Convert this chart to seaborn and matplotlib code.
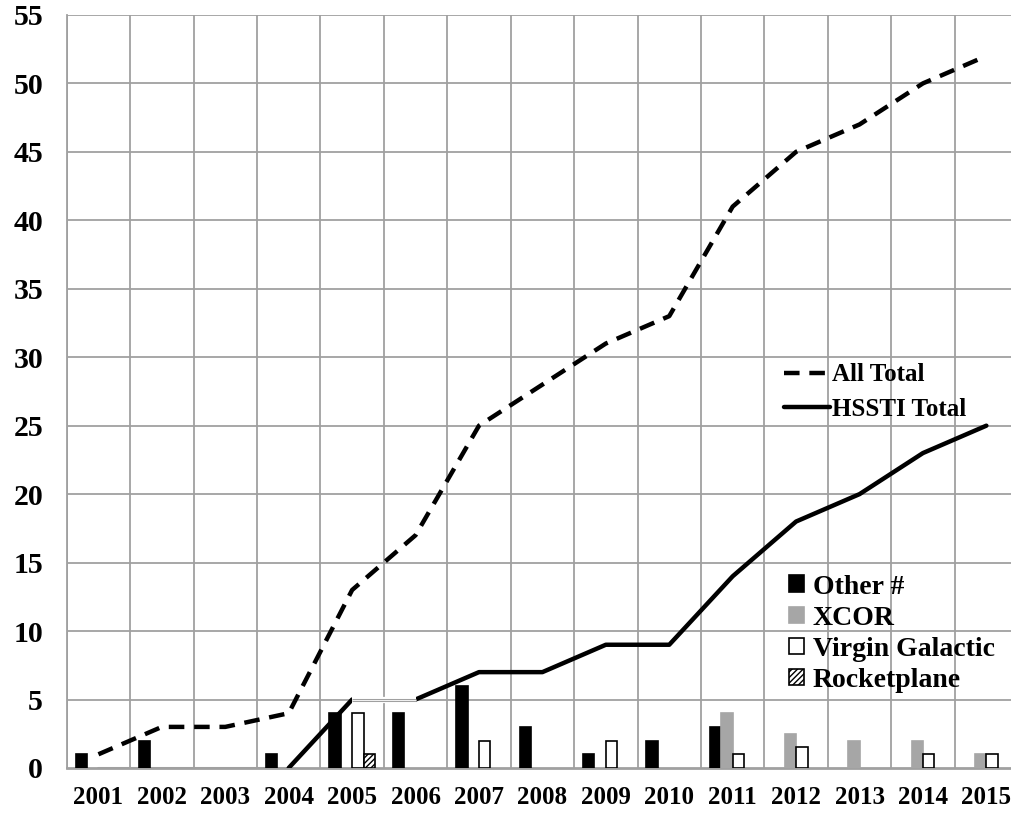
import numpy as np
import pandas as pd
import matplotlib
matplotlib.use("Agg")
import matplotlib.pyplot as plt
from matplotlib.patches import Patch
from matplotlib.lines import Line2D
import seaborn as sns

# ── data ──────────────────────────────────────
years = ["2001", "2002", "2003", "2004", "2005", "2006", "2007", "2008",
         "2009", "2010", "2011", "2012", "2013", "2014", "2015"]
other_n = [1, 2, np.nan, 1, 4, 4, 6, 3, 1, 2, 3, np.nan, np.nan, np.nan, np.nan]
xcor = [np.nan] * 10 + [4, 2.5, 2, 2, 1]
virgin = [np.nan, np.nan, np.nan, np.nan, 4, np.nan, 2, np.nan, 2, np.nan,
          1, 1.5, np.nan, 1, 1]
rocketplane = [np.nan, np.nan, np.nan, np.nan, 1] + [np.nan] * 10
all_total = [1, 3, 3, 4, 13, 17, 25, 28, 31, 33, 41, 45, 47, 50, 52]
hssti_total = [0, 0, 0, 0, 5, 5, 7, 7, 9, 9, 14, 18, 20, 23, 25]

series_names = ["Other #", "XCOR", "Virgin Galactic", "Rocketplane"]
fills = ["black", "#a6a6a6", "white", "white"]
edges = ["black", "#a6a6a6", "black", "black"]
hatches = [None, None, None, "//////"]

# long table for seaborn
rows = []
for name, vals in zip(series_names, [other_n, xcor, virgin, rocketplane]):
    for yr, v in zip(years, vals):
        rows.append({"year": yr, "series": name, "value": v})
bars = pd.DataFrame(rows).dropna()
xpos = np.arange(len(years))

# ── plot ──────────────────────────────────────
sns.set_theme(style="white")
plt.rcParams["font.family"] = ["Liberation Serif", "DejaVu Serif"]
plt.rcParams["font.weight"] = "bold"
plt.rcParams["text.color"] = "black"
plt.rcParams["xtick.labelcolor"] = "black"
plt.rcParams["ytick.labelcolor"] = "black"
plt.rcParams["hatch.linewidth"] = 1.0

fig = plt.figure(figsize=(10.11, 8.15), dpi=100)
ax = fig.add_axes([0.066, 0.0577, 0.941, 0.924])

sns.barplot(data=bars, x="year", y="value", hue="series", order=years,
            hue_order=series_names, palette=dict(zip(series_names, fills)),
            width=0.72, gap=0, errorbar=None, legend=False, ax=ax, zorder=3)
for cont, ec, h in zip(ax.containers, edges, hatches):
    for p in cont:
        p.set_edgecolor(ec)
        p.set_linewidth(1.2)
        if h:
            p.set_hatch(h)

sns.lineplot(x=xpos, y=all_total, color="black", lw=3.2, ax=ax, zorder=4,
             dashes=False, linestyle=(0, (3.5, 2.2)))
# HSSTI: faint grey while still at zero, black once it starts rising
sns.lineplot(x=xpos[:4], y=hssti_total[:4], color="#a0a0a0", lw=2.2, ax=ax,
             zorder=2)
sns.lineplot(x=xpos[3:], y=hssti_total[3:], color="black", lw=3.2, ax=ax,
             zorder=4)
# faint flat stretch 2005-2006
seg_x, seg_y = xpos[4:6], hssti_total[4:6]
ax.plot(seg_x, seg_y, color="white", lw=4.5, zorder=5, solid_capstyle="butt")
ax.plot(seg_x, seg_y, color="#a0a0a0", lw=2.2, zorder=6, solid_capstyle="butt")
ax.plot(seg_x, seg_y, color="white", lw=0.6, zorder=7, solid_capstyle="butt")

# axes, grid, ticks
ax.set_xlim(-0.5, len(years) - 0.5)
ax.set_ylim(0, 55)
ax.set_yticks(range(0, 56, 5))
ax.set_xticks(xpos)
ax.set_xticklabels(years)
ax.set_xlabel("")
ax.set_ylabel("")
for y in range(5, 56, 5):
    ax.axhline(y, color="#a0a0a0", lw=1.3, zorder=1)
for xb in np.arange(-0.5, len(years), 1.0):
    ax.axvline(xb, color="#a0a0a0", lw=1.3, zorder=1)
ax.set_xticks(np.arange(-0.5, len(years), 1.0), minor=True)
ax.tick_params(axis="x", which="major", length=0, pad=13, labelsize=18)
ax.tick_params(axis="x", which="minor", length=8, width=1.3, color="#a0a0a0")
ax.tick_params(axis="y", which="major", length=8, width=1.3, color="#a0a0a0",
               pad=9, labelsize=21.5)
for lab in ax.get_xticklabels() + ax.get_yticklabels():
    lab.set_fontweight("bold")
for s in ["top", "right"]:
    ax.spines[s].set_visible(False)
ax.spines["left"].set_color("#a0a0a0")
ax.spines["left"].set_linewidth(1.3)
ax.spines["bottom"].set_color("#a0a0a0")
ax.spines["bottom"].set_linewidth(2)

# legends
line_handles = [
    Line2D([], [], color="black", lw=3.2, linestyle=(0, (3.5, 2.2))),
    Line2D([], [], color="black", lw=3.2),
]
leg1 = ax.legend(line_handles, ["All Total", "HSSTI Total"], loc="upper left",
                 bbox_to_anchor=(0.73, 0.567), frameon=False, handlelength=1.85,
                 handletextpad=0.1, labelspacing=0.45,
                 prop={"size": 18, "weight": "bold"})
ax.add_artist(leg1)

bar_handles = [Patch(facecolor=f, edgecolor=e, hatch=h, lw=1.2)
               for f, e, h in zip(fills, edges, hatches)]
ax.legend(bar_handles, series_names, loc="upper left",
          bbox_to_anchor=(0.733, 0.29), frameon=False, handlelength=0.55,
          handleheight=0.55, handletextpad=0.3, labelspacing=0.22,
          prop={"size": 20, "weight": "bold"})

fig.savefig("out.png", dpi=100)
